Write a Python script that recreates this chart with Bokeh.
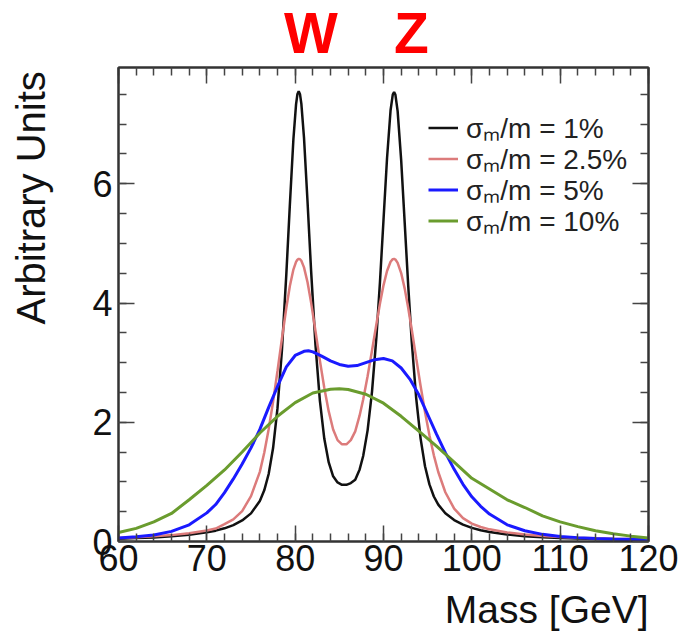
from bokeh.plotting import figure
from bokeh.layouts import column, row
from bokeh.models import Range1d, LinearAxis, SingleIntervalTicker, Legend, LegendItem
from bokeh.core.properties import value
from bokeh.embed import file_html
from bokeh.resources import INLINE

# ---------------- data ----------------
mass = [60, 62, 64, 66, 68, 70, 71, 72, 73, 74, 75, 76, 76.5, 77, 77.5, 78, 78.5, 79,
        79.4, 79.8, 80.1, 80.25, 80.4, 80.55, 80.7, 81.0, 81.4, 81.8, 82.3, 82.8, 83.3,
        83.8, 84.3, 84.8, 85.3, 85.8, 86.3, 86.8, 87.3, 87.7, 88.2, 88.7, 89.2, 89.6,
        90.0, 90.4, 90.8, 91.05, 91.2, 91.35, 91.6, 92.0, 92.4, 92.8, 93.2, 93.7, 94.2,
        94.7, 95.2, 95.7, 96.2, 97, 98, 99, 100, 101, 102, 104, 106, 108, 110, 112, 114,
        116, 118, 120]

res_1pct = [0.047, 0.057, 0.069, 0.087, 0.113, 0.153, 0.182, 0.221, 0.275, 0.353, 0.472,
            0.680, 0.858, 1.132, 1.567, 2.236, 3.204, 4.484, 5.650, 6.747, 7.331, 7.500,
            7.551, 7.500, 7.345, 6.775, 5.698, 4.552, 3.299, 2.359, 1.723, 1.326, 1.094,
            0.99, 0.95, 0.95, 0.98, 1.035, 1.209, 1.434, 1.864, 2.515, 3.431, 4.352,
            5.393, 6.428, 7.233, 7.496, 7.540, 7.492, 7.218, 6.396, 5.344, 4.286, 3.346,
            2.405, 1.726, 1.263, 0.958, 0.755, 0.619, 0.473, 0.359, 0.282, 0.228, 0.188,
            0.159, 0.117, 0.090, 0.072, 0.059, 0.049, 0.042, 0.036, 0.031, 0.027]

res_2p5pct = [0.059, 0.071, 0.086, 0.107, 0.138, 0.184, 0.218, 0.29, 0.37, 0.51, 0.76,
              1.168, 1.490, 1.884, 2.345, 2.860, 3.400, 3.921, 4.285, 4.561, 4.690, 4.725,
              4.740, 4.734, 4.708, 4.598, 4.348, 4.011, 3.528, 3.033, 2.574, 2.182, 1.878,
              1.70, 1.63, 1.63, 1.70, 1.846, 2.115, 2.383, 2.773, 3.204, 3.648, 3.991,
              4.296, 4.538, 4.692, 4.735, 4.740, 4.729, 4.674, 4.502, 4.241, 3.916, 3.551,
              3.075, 2.607, 2.171, 1.781, 1.445, 1.166, 0.826, 0.552, 0.393, 0.300, 0.243,
              0.204, 0.151, 0.117, 0.094, 0.077, 0.064, 0.055, 0.046, 0.041, 0.036]

mass_5pct = [60, 62, 64, 66, 68, 70, 71, 72, 73, 74, 75, 76, 77, 78, 79, 80, 81, 81.5, 82,
             83, 84, 85, 86, 87, 88, 89, 90, 91, 92, 93, 94, 95, 96, 97, 98, 99, 100, 101,
             102, 104, 106, 108, 110, 112, 114, 116, 118, 120]
res_5pct = [0.06, 0.08, 0.11, 0.17, 0.28, 0.48, 0.62, 0.82, 1.05, 1.30, 1.57, 1.88, 2.25,
            2.60, 2.93, 3.12, 3.19, 3.20, 3.18, 3.11, 3.03, 2.97, 2.94, 2.95, 3.00, 3.05,
            3.07, 3.03, 2.91, 2.72, 2.46, 2.13, 1.80, 1.49, 1.21, 0.96, 0.75, 0.59, 0.46,
            0.28, 0.18, 0.12, 0.085, 0.065, 0.05, 0.042, 0.036, 0.03]

mass_10pct = [60, 62, 64, 66, 68, 70, 72, 74, 76, 78, 80, 82, 84, 85, 86, 88, 90, 92, 94,
              96, 98, 100, 102, 104, 106, 108, 110, 112, 114, 116, 118, 120]
res_10pct = [0.15, 0.22, 0.33, 0.47, 0.70, 0.94, 1.20, 1.50, 1.82, 2.10, 2.33, 2.49, 2.555,
             2.56, 2.55, 2.47, 2.32, 2.10, 1.85, 1.60, 1.33, 1.06, 0.88, 0.70, 0.57, 0.43,
             0.33, 0.25, 0.18, 0.13, 0.09, 0.06]

series_labels = ["σₘ/m = 1%", "σₘ/m = 2.5%", "σₘ/m = 5%", "σₘ/m = 10%"]
x_title = ["Mass [GeV]"]
y_title = ["Arbitrary Units"]
boson_labels = ["W", "Z"]

FONT = "Liberation Sans"


def strip(width, height, x_range, y_range, left=0, right=0):
    f = figure(width=width, height=height, output_backend="svg", toolbar_location=None,
               x_range=x_range, y_range=y_range, x_axis_type=None, y_axis_type=None,
               min_border_left=left, min_border_right=right, min_border_top=0,
               min_border_bottom=0)
    f.outline_line_color = None
    f.grid.visible = False
    return f


xr = Range1d(60, 120)

# ---------------- header strip with the boson names ----------------
top = strip(679, 64, xr, Range1d(0, 64), left=118, right=31)
top.text(x=[81.79, 93.17], y=[32, 32], text=boson_labels, text_color="#ff0000",
         text_font=value(FONT), text_font_size="57px", text_font_style="bold",
         text_align="center", text_baseline="middle")

# ---------------- left strip with the y title ----------------
left = strip(60, 522, Range1d(0, 60), Range1d(0, 522))
left.text(x=[30.5], y=[518], text=y_title, text_color="#111111",
          text_font=value(FONT), text_font_size="40px", angle=1.5708,
          text_align="right", text_baseline="middle")

# ---------------- bottom strip with the x title ----------------
bottom = strip(679, 45, xr, Range1d(0, 45), left=118, right=31)
bottom.text(x=[120], y=[22], text=x_title, text_color="#111111",
            text_font=value(FONT), text_font_size="39px",
            text_align="right", text_baseline="middle")

# ---------------- main figure ----------------
p = figure(width=619, height=522, output_backend="svg", toolbar_location=None,
           x_range=xr, y_range=Range1d(0, 7.95),
           x_axis_type=None, y_axis_type=None,
           min_border_left=58, min_border_right=31, min_border_top=3,
           min_border_bottom=45)
p.grid.visible = False
p.background_fill_color = "white"
p.border_fill_color = "white"
p.outline_line_color = "#333333"
p.outline_line_width = 2


def style_axis(ax, show_labels):
    ax.axis_line_color = "#333333"
    ax.axis_line_width = 2
    ax.major_tick_in = 16
    ax.major_tick_out = 0
    ax.minor_tick_in = 8
    ax.minor_tick_out = 0
    ax.major_tick_line_color = "#444444"
    ax.minor_tick_line_color = "#444444"
    ax.major_tick_line_width = 1.5
    ax.minor_tick_line_width = 1.5
    ax.major_label_text_font = FONT
    ax.major_label_text_color = "#111111"
    if show_labels:
        ax.major_label_text_font_size = "36px"
        ax.major_label_standoff = 4
    else:
        ax.major_label_text_font_size = "1px"
        ax.major_label_text_alpha = 0
        ax.major_label_standoff = 0


xt = SingleIntervalTicker(interval=10, num_minor_ticks=5)
yt = SingleIntervalTicker(interval=2, num_minor_ticks=4)

xb = LinearAxis(ticker=xt)
style_axis(xb, True)
xb.major_label_standoff = 3
p.add_layout(xb, "below")

xa = LinearAxis(ticker=xt)
style_axis(xa, False)
p.add_layout(xa, "above")

yl = LinearAxis(ticker=yt)
style_axis(yl, True)
yl.major_label_standoff = 6
p.add_layout(yl, "left")

yr = LinearAxis(ticker=yt)
style_axis(yr, False)
p.add_layout(yr, "right")

# ---------------- curves ----------------
r1 = p.line(mass, res_1pct, line_color="#111111", line_width=2.5)
r2 = p.line(mass, res_2p5pct, line_color="#dc7b7b", line_width=2.5)
r3 = p.line(mass_5pct, res_5pct, line_color="#1a1aff", line_width=3)
r4 = p.line(mass_10pct, res_10pct, line_color="#6a9c2e", line_width=3)

# one legend block per entry so the row pitch matches the reference
for label, rend, vy in zip(series_labels, [r1, r2, r3, r4], [395, 364, 333, 302]):
    lg = Legend(items=[LegendItem(label=label, renderers=[rend])],
                location=(310, vy), orientation="vertical",
                label_text_font=FONT, label_text_font_size="28px",
                label_text_color="#222222",
                glyph_width=30, glyph_height=31, label_height=31,
                label_standoff=8, spacing=0, padding=0, margin=0,
                border_line_alpha=0, background_fill_alpha=0)
    p.add_layout(lg)

layout = column(top, row(left, p, spacing=0), bottom, spacing=0)
open("out.html", "w").write(file_html(layout, INLINE))
